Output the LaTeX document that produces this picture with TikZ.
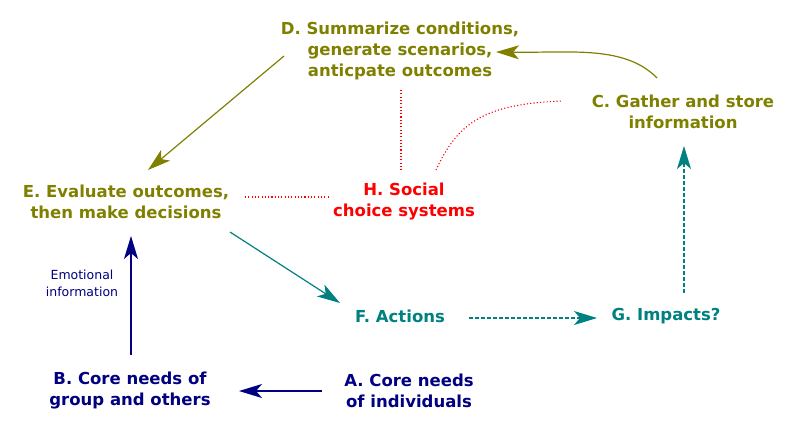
\documentclass[tikz,border=0pt]{standalone}
\usepackage{fontspec}
\setmainfont{DejaVu Sans}
\usetikzlibrary{arrows.meta}
\definecolor{cOlive}{RGB}{128,128,0}
\definecolor{cTeal}{RGB}{0,128,128}
\definecolor{cNavy}{RGB}{0,0,128}
\definecolor{cRed}{RGB}{255,0,0}
\tikzset{
  lbl/.style={font=\fontsize{16.5bp}{21bp}\selectfont\bfseries, align=center, inner sep=2bp},
  olab/.style={lbl, text=cOlive},
  tlab/.style={lbl, text=cTeal},
  nlab/.style={lbl, text=cNavy},
  rlab/.style={lbl, text=cRed},
  tip/.style={-{Stealth[length=23bp,width=14bp,inset=6bp]}},
  oarr/.style={tip, draw=cOlive, line width=1.2bp},
  tarr/.style={tip, draw=cTeal, line width=1.2bp},
  narr/.style={tip, draw=cNavy, line width=1.2bp},
  rdot/.style={draw=cRed, line width=1.1bp, dash pattern=on 1.1bp off 2.2bp},
  tdash/.style={dash pattern=on 4bp off 2bp},
}
\begin{document}
\begin{tikzpicture}[x=1bp,y=-1bp]
\useasboundingbox (0,0) rectangle (799,429);
\node[olab] (D) at (400,51) {D. Summarize conditions,\\generate scenarios,\\anticpate outcomes};
\node[olab] (C) at (683,112) {C. Gather and store\\information};
\node[olab] (E) at (126,202) {E. Evaluate outcomes,\\then make decisions};
\node[rlab] (H) at (404,202) {H. Social\\choice systems};
\node[tlab] (F) at (400,316) {F. Actions};
\node[tlab] (G) at (666,316) {G. Impacts?};
\node[nlab] (B) at (130,391) {B. Core needs of\\group and others};
\node[nlab] (A) at (409,391) {A. Core needs\\of individuals};
\node[text=cNavy, align=center, font=\fontsize{12.5bp}{17bp}\selectfont] (Em) at (82,283) {Emotional\\information};

\coordinate (Dout) at (284,56);
\coordinate (Ein) at (148,170);
\coordinate (Cout) at (657,78);
\coordinate (Din) at (496,52);
\draw[oarr] (Dout) -- (Ein);
\draw[oarr] (Cout) .. controls (625,45) and (570,53) .. (Din);

\coordinate (Er) at (245,197);
\coordinate (Hl) at (330,197);
\coordinate (Db) at (401,90);
\coordinate (Ht) at (401,170);
\coordinate (Htr) at (436,170);
\coordinate (Cl) at (562,101);
\draw[rdot] (Er) -- (Hl);
\draw[rdot] (Db) -- (Ht);
\draw[rdot] (Htr) .. controls (458,122) and (485,104) .. (Cl);

\coordinate (Eo) at (230,232);
\coordinate (Fi) at (340,303);
\draw[tarr] (Eo) -- (Fi);
\coordinate (Fo) at (469,318);
\coordinate (Gi) at (597,318);
\draw[tarr, tdash] (Fo) -- (Gi);
\coordinate (Go) at (684,293);
\coordinate (Ci) at (684,146);
\draw[tarr, tdash] (Go) -- (Ci);

\coordinate (Bo) at (131,355);
\coordinate (Ei) at (131,236);
\draw[narr] (Bo) -- (Ei);
\coordinate (Ao) at (322,391);
\coordinate (Bi) at (239,391);
\draw[narr] (Ao) -- (Bi);
\end{tikzpicture}
\end{document}
